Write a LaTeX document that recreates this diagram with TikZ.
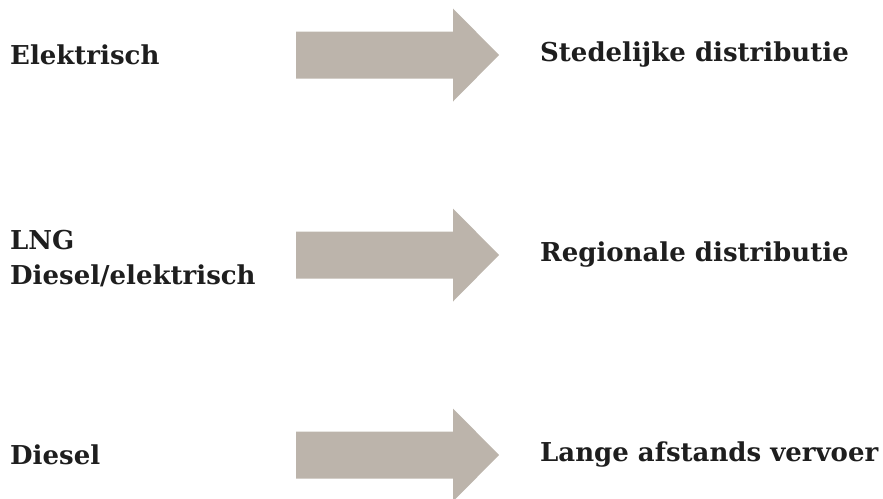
\documentclass[tikz,border=0pt]{standalone}
\usepackage{fontspec}
\setmainfont{DejaVu Serif}
\definecolor{arrowgrey}{RGB}{188,180,171}
\definecolor{textblack}{RGB}{30,30,30}
\newcommand{\flowarrow}[1]{%
  \fill[arrowgrey] (296,#1-23.5) -- (453,#1-23.5) -- (453,#1-46.5) -- (499,#1)
    -- (453,#1+46.5) -- (453,#1+23.5) -- (296,#1+23.5) -- cycle;}
\begin{document}
\begin{tikzpicture}[x=1pt,y=-1pt]
                    \tikzstyle{fuel}=[anchor=west, inner sep=0pt, align=left, text=textblack, font=\bfseries\fontsize{26}{35}\selectfont]
                    \tikzstyle{usage}=[fuel]
                    \useasboundingbox (0,0) rectangle (883,498);
                    \node[fuel] (elek) at (10,55) {Elektrisch};
                    \node[fuel] (lng) at (10,259) {LNG\\Diesel/elektrisch};
                    \node[fuel] (dies) at (10,455) {Diesel};
                    \flowarrow{55}
                    \flowarrow{255}
                    \flowarrow{455}
                    \node[usage] (sted) at (540,55) {Stedelijke distributie};
                    \node[usage] (regio) at (540,255) {Regionale distributie};
                    \node[usage] (lange) at (540,455) {Lange afstands vervoer};
                \end{tikzpicture}
\end{document}
